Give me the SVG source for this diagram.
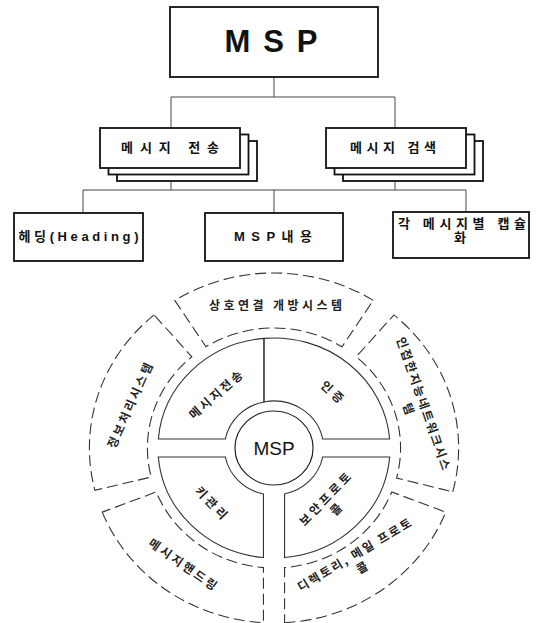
<svg xmlns="http://www.w3.org/2000/svg" width="539" height="623" viewBox="0 0 539 623">
<style>
  .box { fill: #fff; stroke: #111; stroke-width: 1.8; }
  .conn { fill: none; stroke: #444; stroke-width: 1; }
  .lbl { font-family: "Liberation Sans", "Noto Sans CJK KR", sans-serif; fill: #111; text-anchor: middle; }
  .t13 { font-size: 13px; }
  .b { font-weight: bold; }
  .quad { fill: none; stroke: #333; stroke-width: 1.1; }
  .sect { fill: none; stroke: #333; stroke-width: 1.1; stroke-dasharray: 11 5; }
  .ctext { font-family: "Noto Sans CJK KR", "Liberation Sans", sans-serif; font-size: 12px; font-weight: bold; fill: #222; text-anchor: middle; dominant-baseline: central; }
</style>
<rect width="539" height="623" fill="#fff"/>

<!-- connectors of the tree -->
<g id="connectors">
  <path class="conn" d="M274,77 V97 M171,97 H395 M171,97 V128 M395,97 V128"/>
  <path class="conn" d="M171,168 V190 M395,168 V190 M83,190 H466 M83,190 V213 M274,190 V213 M466,190 V212"/>
</g>

<g id="node-msp">
  <rect class="box" x="170" y="7" width="208" height="70" stroke-width="2"/>
  <text class="lbl b" x="271" y="52" font-size="31" textLength="93" lengthAdjust="spacing">MSP</text>
</g>

<g id="node-send">
  <rect class="box" x="117" y="141" width="140" height="40"/>
  <rect class="box" x="108.5" y="134.5" width="140" height="40"/>
  <rect class="box" x="100" y="128" width="140" height="40"/>
  <text class="lbl t13 b" x="170" y="152" textLength="98" lengthAdjust="spacing">메시지 전송</text>
</g>

<g id="node-search">
  <rect class="box" x="343" y="141" width="140" height="40"/>
  <rect class="box" x="334.5" y="134.5" width="140" height="40"/>
  <rect class="box" x="326" y="128" width="140" height="40"/>
  <text class="lbl t13 b" x="393" y="152" textLength="86" lengthAdjust="spacing">메시지 검색</text>
</g>

<g id="node-heading">
  <rect class="box" x="14" y="213" width="129" height="48"/>
  <text class="lbl t13 b" x="78.5" y="241" textLength="120" lengthAdjust="spacing">헤딩(Heading)</text>
</g>

<g id="node-content">
  <rect class="box" x="205" y="213" width="138" height="48"/>
  <text class="lbl t13 b" x="273" y="241" textLength="78" lengthAdjust="spacing">MSP내용</text>
</g>

<g id="node-encap">
  <rect class="box" x="393" y="212" width="136" height="46"/>
  <text class="lbl t13 b" x="462" y="228" textLength="128" lengthAdjust="spacing">각 메시지별 캡슐</text>
  <text class="lbl t13 b" x="460" y="242">화</text>
</g>

<!-- circular diagram -->
<g id="ring" transform="translate(274,448) scale(1.055,1)">
  <circle cx="0" cy="0" r="37" fill="none" stroke="#222" stroke-width="1.2" vector-effect="non-scaling-stroke"/>
  <path class="quad" vector-effect="non-scaling-stroke" d="M -9.5,-46.03 L -9.5,-109.59 A 110 110 0 0 0 -109.63,-9 L -46.13,-9 A 47 47 0 0 1 -9.5,-46.03 Z"/>
  <path class="quad" vector-effect="non-scaling-stroke" d="M -9.5,-46.03 L -9.5,-109.59 A 110 110 0 0 1 109.63,-9 L 46.13,-9 A 47 47 0 0 0 -9.5,-46.03 Z"/>
  <path class="quad" vector-effect="non-scaling-stroke" d="M -10,45.92 L -10,109.54 A 110 110 0 0 1 -109.63,9 L -46.13,9 A 47 47 0 0 0 -10,45.92 Z"/>
  <path class="quad" vector-effect="non-scaling-stroke" d="M 10,45.92 L 10,109.54 A 110 110 0 0 0 109.63,9 L 46.13,9 A 47 47 0 0 1 10,45.92 Z"/>
  <path class="sect" vector-effect="non-scaling-stroke" d="M 94.03,-147.60 A 175 175 0 0 0 -94.03,-147.60 L -64.48,-101.21 A 120 120 0 0 1 64.48,-101.21 Z"/>
  <path class="sect" vector-effect="non-scaling-stroke" d="M -113.65,-133.07 A 175 175 0 0 0 -169.80,42.33 L -116.44,29.03 A 120 120 0 0 1 -77.93,-91.25 Z"/>
  <path class="sect" vector-effect="non-scaling-stroke" d="M -162.82,64.14 A 175 175 0 0 0 -10,174.71 L -10,119.58 A 120 120 0 0 1 -111.65,43.98 Z"/>
  <path class="sect" vector-effect="non-scaling-stroke" d="M 10,174.71 A 175 175 0 0 0 162.82,64.14 L 111.65,43.98 A 120 120 0 0 1 10,119.58 Z"/>
  <path class="sect" vector-effect="non-scaling-stroke" d="M 169.42,43.82 A 175 175 0 0 0 113.65,-133.07 L 77.93,-91.25 A 120 120 0 0 1 116.17,30.05 Z"/>
</g>

<g id="ring-labels">
  <text class="lbl" x="274" y="448" font-size="19" dominant-baseline="central">MSP</text>
  <text class="ctext" transform="translate(275.5,304)" textLength="133" lengthAdjust="spacing">상호연결 개방시스템</text>
  <text class="ctext" transform="translate(129,405) rotate(-65.7)" textLength="92" lengthAdjust="spacing">정보처리시스템</text>
  <text class="ctext" transform="translate(215,394) rotate(-41)" textLength="66" lengthAdjust="spacing">메시지전송</text>
  <text class="ctext" transform="translate(333,391) rotate(42)" textLength="26" lengthAdjust="spacing">인증</text>
  <text class="ctext" transform="translate(212,502) rotate(46)" textLength="40" lengthAdjust="spacing">키관리</text>
  <text class="ctext" transform="translate(324,498) rotate(-46)"><tspan x="0" y="0" textLength="68" lengthAdjust="spacing">보안프로토</tspan><tspan x="0" y="15">콜</tspan></text>
  <text class="ctext" transform="translate(353.5,553.5) rotate(-30.7)"><tspan x="0" y="0" textLength="130" lengthAdjust="spacing">디렉토리, 메일 프로토</tspan><tspan x="0" y="15">콜</tspan></text>
  <text class="ctext" transform="translate(183.5,563.5) rotate(35)" textLength="80" lengthAdjust="spacing">메시지핸드링</text>
  <text class="ctext" transform="translate(425,403) rotate(70.7)"><tspan x="0" y="0" textLength="140" lengthAdjust="spacing">인접한지능네트워크시스</tspan><tspan x="0" y="16">템</tspan></text>
</g>
</svg>
